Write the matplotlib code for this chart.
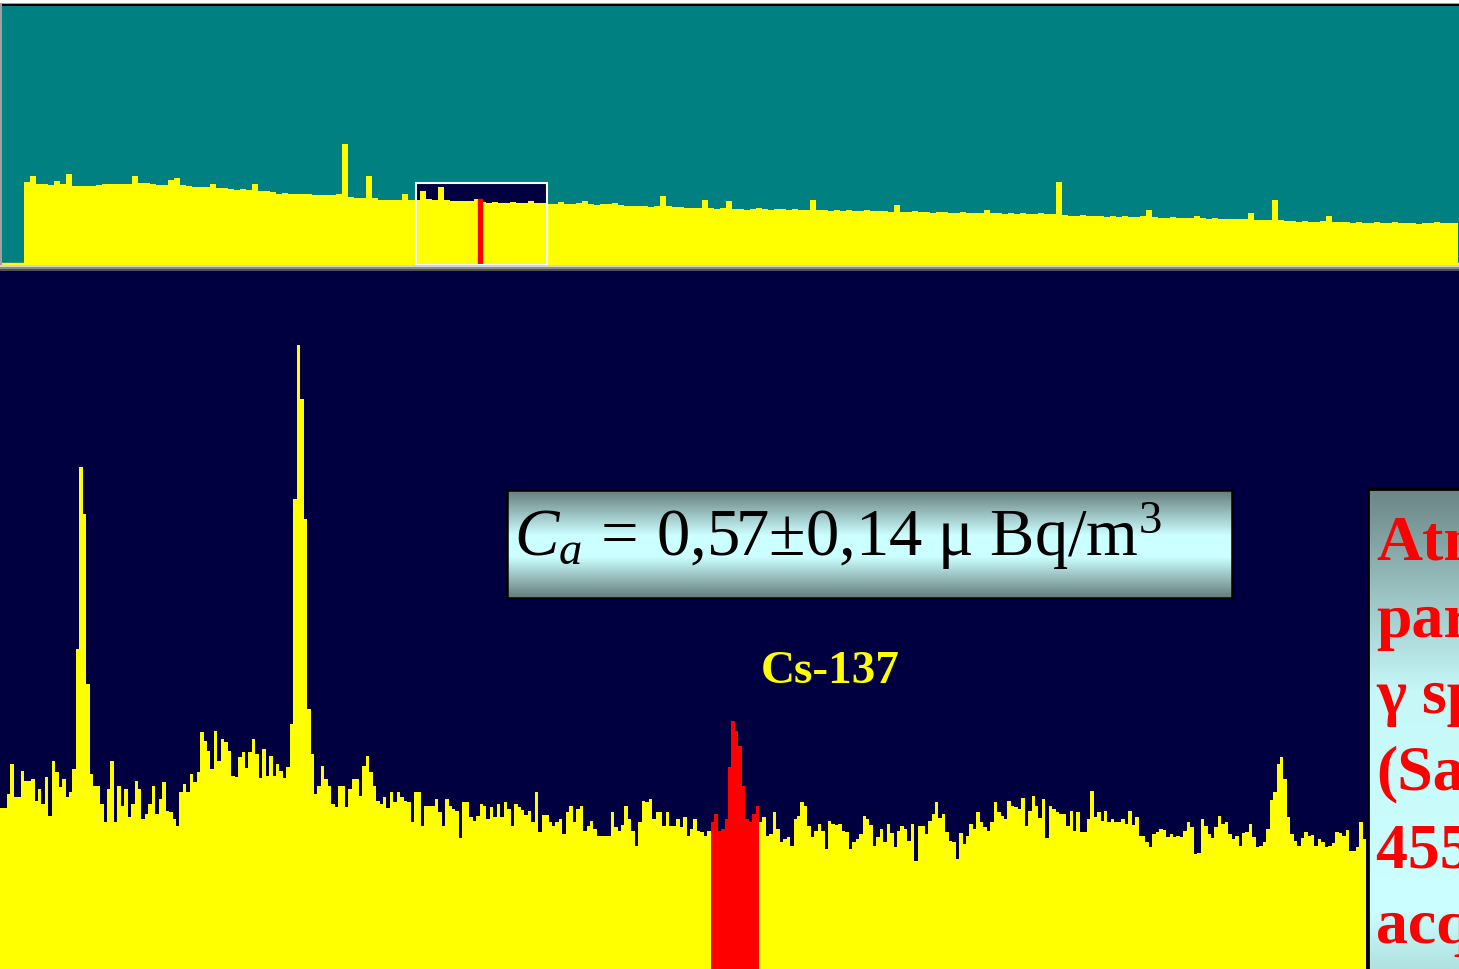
import numpy as np
import matplotlib.pyplot as plt
from matplotlib.patches import Rectangle
from matplotlib.colors import LinearSegmentedColormap

W, H = 1459, 970

# overview spectrum (full energy range), one value per group of channels
overview_counts = [
    82, 88, 80, 80, 79, 83, 80, 90, 78, 78,
    78, 78, 79, 80, 80, 80, 80, 80, 88, 81,
    81, 80, 79, 79, 84, 86, 79, 78, 77, 77,
    77, 80, 76, 76, 75, 74, 75, 74, 80, 73,
    73, 72, 70, 71, 70, 70, 70, 70, 69, 69,
    69, 69, 70, 120, 67, 66, 66, 88, 66, 64,
    64, 64, 64, 70, 63, 63, 73, 65, 63, 77,
    63, 62, 62, 62, 62, 65, 61, 60, 61, 60,
    60, 61, 60, 60, 62, 60, 60, 59, 59, 61,
    59, 59, 60, 62, 59, 58, 59, 59, 60, 58,
    57, 57, 57, 57, 56, 57, 68, 57, 56, 56,
    55, 55, 55, 63, 55, 54, 55, 62, 54, 54,
    53, 54, 55, 54, 53, 54, 54, 53, 54, 53,
    53, 63, 53, 53, 52, 53, 52, 53, 52, 52,
    53, 52, 52, 52, 51, 58, 51, 51, 52, 51,
    51, 50, 51, 51, 50, 50, 51, 50, 50, 50,
    53, 50, 50, 49, 50, 49, 50, 49, 49, 50,
    49, 49, 82, 48, 47, 47, 48, 47, 47, 47,
    46, 47, 46, 47, 46, 46, 47, 53, 46, 45,
    45, 46, 45, 45, 45, 47, 45, 44, 45, 44,
    44, 44, 44, 44, 50, 43, 43, 43, 63, 43,
    42, 42, 41, 42, 41, 41, 42, 47, 41, 41,
    41, 40, 41, 40, 40, 41, 40, 40, 41, 40,
    40, 40, 39, 40, 40, 41, 40, 40, 40,
]
zoom_window = (65.3, 87.2)   # overview range shown in the lower panel
cs_marker = (75.7, 76.3)     # Cs-137 ROI as seen in the overview

# expanded spectrum (lower panel)
zoom_counts = [
    161, 161, 175, 205, 172, 172, 198, 188, 188, 190,
    168, 180, 165, 192, 153, 208, 197, 182, 190, 172,
    177, 200, 320, 502, 455, 285, 195, 183, 183, 165,
    147, 180, 208, 147, 183, 163, 180, 152, 165, 188,
    180, 150, 155, 165, 183, 155, 170, 187, 158, 157,
    150, 143, 177, 185, 177, 195, 187, 197, 237, 228,
    218, 200, 238, 208, 230, 227, 218, 193, 192, 212,
    217, 201, 217, 230, 215, 191, 220, 193, 213, 193,
    205, 198, 191, 202, 245, 470, 624, 570, 450, 260,
    215, 175, 183, 203, 190, 183, 165, 162, 183, 183,
    162, 180, 190, 190, 173, 203, 213, 197, 183, 168,
    165, 172, 161, 177, 167, 177, 172, 168, 167, 147,
    177, 177, 143, 163, 163, 163, 170, 157, 143, 170,
    163, 160, 158, 131, 167, 167, 152, 148, 153, 165,
    163, 150, 162, 152, 165, 152, 167, 160, 143, 165,
    162, 159, 154, 158, 147, 177, 137, 154, 154, 147,
    143, 147, 150, 135, 157, 163, 147, 160, 163, 138,
    143, 148, 140, 133, 133, 133, 133, 157, 142, 138,
    144, 163, 150, 138, 123, 147, 168, 167, 170, 150,
    157, 157, 143, 157, 143, 143, 150, 142, 152, 133,
    140, 150, 138, 137, 133, 138, 147, 155, 138, 140,
    150, 202, 248, 238, 223, 183, 150, 147, 155, 163,
    147, 152, 133, 135, 157, 140, 127, 130, 132, 123,
    150, 153, 167, 163, 143, 132, 138, 145, 138, 120,
    148, 145, 144, 145, 138, 137, 120, 127, 130, 135,
    153, 150, 144, 123, 132, 140, 127, 145, 136, 122,
    138, 143, 140, 128, 145, 108, 143, 143, 135, 148,
    155, 167, 151, 155, 137, 128, 127, 110, 136, 125,
    133, 145, 140, 157, 147, 142, 138, 147, 167, 157,
    153, 150, 168, 163, 162, 160, 171, 143, 158, 173,
    163, 151, 170, 131, 163, 160, 157, 155, 155, 143,
    158, 138, 157, 137, 137, 150, 178, 152, 157, 148,
    158, 147, 150, 147, 147, 150, 145, 158, 144, 152,
    133, 133, 127, 122, 135, 137, 140, 139, 132, 135,
    132, 133, 132, 138, 147, 142, 115, 116, 150, 143,
    135, 131, 142, 153, 145, 147, 135, 130, 133, 123,
    136, 137, 145, 132, 122, 123, 127, 140, 169, 177,
    205, 212, 190, 152, 135, 128, 123, 131, 137, 133,
    134, 123, 130, 127, 122, 123, 126, 137, 136, 133,
    139, 118, 118, 122, 147, 130,
]
cs_roi = (206, 220)   # channels of the Cs-137 region of interest

result_text = r"$C_a\,=\,\mathrm{0{,}57±0{,}14\ μ\ Bq/m^3}$"
peak_label = "Cs-137"
side_lines = ["Atmospheric", "particulate", "γ spectrum", "(Sample",
              "45500 s", "acquisition"]

TEAL = "#008080"
NAVY = "#000040"
YELLOW = "#ffff00"
RED = "#ff0000"

plt.rcParams['mathtext.fontset'] = 'custom'
plt.rcParams['mathtext.rm'] = 'Liberation Serif'
plt.rcParams['mathtext.it'] = 'Liberation Serif:italic'


def px_box(x0, y0, x1, y1):
    return [x0 / W, 1 - y1 / H, (x1 - x0) / W, (y1 - y0) / H]


def fig_rect(x0, y0, x1, y1, color):
    fig.add_artist(Rectangle((x0 / W, 1 - y1 / H), (x1 - x0) / W, (y1 - y0) / H,
                             transform=fig.transFigure, facecolor=color,
                             edgecolor='none', zorder=5))


def clean(ax):
    ax.set_xticks([])
    ax.set_yticks([])
    for s in ax.spines.values():
        s.set_visible(False)


fig = plt.figure(figsize=(W / 100, H / 100), dpi=100, facecolor='white')

# ---- overview panel
ax1 = fig.add_axes(px_box(0, 7, W, 266))
ax1.set_facecolor(TEAL)
clean(ax1)
n1 = len(overview_counts)
edges1 = np.arange(n1 + 1)
ax1.axhspan(-2, 0, color=YELLOW, zorder=2)
ax1.add_patch(Rectangle((zoom_window[0], -2), zoom_window[1] - zoom_window[0], 83,
                        facecolor=NAVY, edgecolor='none', zorder=1))
ax1.stairs(overview_counts, edges1, baseline=-2, fill=True, color=YELLOW, zorder=2)
ax1.fill_between(cs_marker, -2, overview_counts[75], color=RED, zorder=3)
ax1.add_patch(Rectangle((zoom_window[0], -2), zoom_window[1] - zoom_window[0], 83,
                        facecolor='none', edgecolor='white', lw=1.5, zorder=4))
ax1.set_xlim(-4, -4 + W / 6)
ax1.set_ylim(-2, 259)

# ---- expanded panel
ax2 = fig.add_axes(px_box(0, 271, W, H))
ax2.set_facecolor(NAVY)
clean(ax2)
n2 = len(zoom_counts)
edges2 = np.arange(n2 + 1)
ax2.stairs(zoom_counts, edges2, baseline=0, fill=True, color=YELLOW, zorder=2)
lo, hi = cs_roi
ax2.stairs(zoom_counts[lo:hi], edges2[lo:hi + 1], baseline=0, fill=True,
           color=RED, zorder=3)
ax2.set_xlim(0, W / 3.45)
ax2.set_ylim(0, 699)

# ---- frame decorations
fig_rect(0, 4, W, 5, "#a0a0a0")
fig_rect(0, 5, W, 7, "#000000")
fig_rect(0, 4, 1.5, 266, "#a0a0a0")
fig_rect(0, 266, W, 268, "#d4d4d4")
fig_rect(0, 268, W, 270, "#8c8c8c")
fig_rect(0, 270, W, 271.5, "#505050")

# ---- result box
cm_box = LinearSegmentedColormap.from_list(
    "box", [(0, "#657d7d"), (0.42, "#ccffff"), (0.62, "#ccffff"), (1, "#657d7d")])
axb = fig.add_axes(px_box(507, 491, 1232, 599))
axb.imshow(np.linspace(0, 1, 200)[:, None], cmap=cm_box, aspect='auto',
           extent=[0, 1, 0, 1])
axb.set_xticks([])
axb.set_yticks([])
for s in axb.spines.values():
    s.set_color('black')
    s.set_linewidth(1.8)
fig.text(514 / W, 1 - 556 / H, result_text, fontsize=48, color='black',
         ha='left', va='baseline', zorder=10)

fig.text(830 / W, 1 - 683 / H, peak_label, family='Liberation Serif',
         weight='bold', fontsize=34, color=YELLOW, ha='center', va='baseline')

# ---- side caption box (text runs past the right edge, as in the slide)
cm_side = LinearSegmentedColormap.from_list(
    "side", [(0, "#6c8686"), (0.25, "#a2cccc"), (0.42, "#c6f8f8"),
             (0.88, "#ccffff"), (1, "#b0e2e2")])
axs = fig.add_axes(px_box(1368, 490, W, H))
axs.imshow(np.linspace(0, 1, 200)[:, None], cmap=cm_side, aspect='auto',
           extent=[0, 1, 0, 1])
axs.set_xticks([])
axs.set_yticks([])
for k, s in axs.spines.items():
    s.set_visible(k in ('left', 'top'))
    s.set_color('black')
    s.set_linewidth(2)
baselines = [560, 637, 713, 790, 867, 943]
for line, yb in zip(side_lines, baselines):
    fig.text(1376 / W, 1 - yb / H, line, family='Liberation Serif', weight='bold',
             fontsize=46, color=RED, ha='left', va='baseline', zorder=10)

fig.savefig("out.png", dpi=100, facecolor='white')
